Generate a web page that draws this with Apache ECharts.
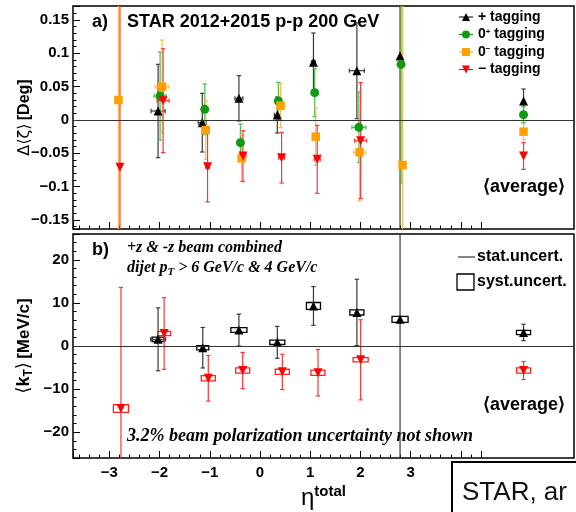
<!DOCTYPE html>
<html><head><meta charset="utf-8">
<script src="https://cdn.jsdelivr.net/npm/echarts@6/dist/echarts.min.js"></script>
<style>html,body{margin:0;padding:0;background:#fff}#c{width:576px;height:512px}</style>
</head><body><div id="c"></div>
<script>
// ---------- panel a) : Δ<ζ> [Deg] ----------
const plusEtaA  = [-2.03, -1.15, -0.42, 0.345, 1.065, 1.93, 2.79, 5.25];
const plusValA  = [0.0135, -0.004, 0.0325, 0.0075, 0.0865, 0.074, 0.096, 0.0285];
const plusErrA  = [0.070, 0.044, 0.034, 0.027, 0.044, 0.072, 0.60, 0.018];
const plusXErrA = [0.14, 0.08, 0.08, 0.06, 0.04, 0.15, 0, 0];

const zpEtaA  = [-1.99, -1.10, -0.39, 0.365, 1.09, 1.97, 2.81, 5.25];
const zpValA  = [0.036, 0.016, -0.034, 0.0285, 0.041, -0.011, 0.0835, 0.008];
const zpErrA  = [0.066, 0.038, 0.028, 0.028, 0.036, 0.053, 0.178, 0.012];
const zpXErrA = [0.12, 0.04, 0.04, 0.04, 0.03, 0.14, 0, 0];

const zmEtaA  = [-2.82, -1.95, -1.08, -0.365, 0.41, 1.11, 1.985, 2.84, 5.25];
const zmValA  = [0.030, 0.050, -0.015, -0.0575, 0.0215, -0.025, -0.0485, -0.0675, -0.0175];
const zmErrA  = [0.60, 0.070, 0.044, 0.035, 0.033, 0.043, 0.073, 0.60, 0.012];
const zmXErrA = [0, 0.14, 0.04, 0.04, 0.06, 0.04, 0.12, 0, 0];

const minusEtaA  = [-2.79, -1.93, -1.045, -0.34, 0.43, 1.14, 2.005, 5.25];
const minusValA  = [-0.071, 0.029, -0.070, -0.054, -0.0565, -0.059, -0.031, -0.054];
const minusErrA  = [0.60, 0.078, 0.053, 0.038, 0.038, 0.051, 0.087, 0.020];
const minusXErrA = [0, 0.12, 0.04, 0.06, 0.06, 0.06, 0.12, 0];

// ---------- panel b) : <k_T> [MeV/c] ----------
const plusEtaB   = [-2.03, -1.14, -0.42, 0.345, 1.065, 1.93, 2.79, 5.25];
const plusValB   = [1.55, -0.4, 3.7, 0.85, 9.3, 7.8, 6.2, 3.15];
const plusStatB  = [7.3, 4.7, 3.7, 3.7, 4.5, 7.7, 80, 1.9];
const plusXErrB  = [0.15, 0, 0, 0, 0, 0, 0, 0];
const plusSystB  = [0.5, 0.5, 0.55, 0.5, 0.8, 0.6, 0.7, 0.5];
const plusSystWB = [0.12, 0.12, 0.16, 0.15, 0.14, 0.14, 0.16, 0.14];

const minusEtaB   = [-2.77, -1.91, -1.03, -0.345, 0.445, 1.155, 2.005, 5.25];
const minusValB   = [-14.5, 2.9, -7.5, -5.7, -6.0, -6.2, -3.2, -5.7];
const minusStatB  = [28.1, 8.3, 5.3, 4.2, 4.1, 5.4, 9.3, 2.1];
const minusXErrB  = [0, 0, 0, 0, 0, 0, 0, 0];
const minusSystB  = [0.9, 0.5, 0.6, 0.6, 0.6, 0.6, 0.5, 0.6];
const minusSystWB = [0.15, 0.13, 0.14, 0.14, 0.14, 0.14, 0.15, 0.14];

// ---------- tick labels ----------
const xTicks = [-3, -2, -1, 0, 1, 2, 3];
const yTicksA = [-0.15, -0.1, -0.05, 0, 0.05, 0.1, 0.15];
const yTicksB = [-20, -10, 0, 10, 20];
const legendLabels = {
  plus: '+ tagging',
  zp: '0{sup|+} tagging',
  zm: '0{sup|\u2212} tagging',
  minus: '\u2212 tagging'
};

const X_MIN = -3.725, PX_PER_UNIT = 50.2, PLOT_W = 501, TICK_MAX = 4.4;
const FONT = "'Liberation Sans', Arial, Helvetica, sans-serif";
const SERIF = "'Liberation Serif', 'Times New Roman', serif";

function fmtNum(v) { return String(v).replace('-', '\u2212'); }
function tickFormatter(list) {
  return function (v) {
    for (const t of list) if (Math.abs(v - t) < 1e-9 * Math.max(1, Math.abs(t)) + 1e-9) return fmtNum(t);
    return '';
  };
}
function zip() {
  const arrs = Array.from(arguments);
  return arrs[0].map((_, i) => arrs.map(a => a[i]));
}

function errRender(color, lw) {
  return function (params, api) {
    const cs = params.coordSys;
    const x = api.value(0), y = api.value(1), ey = api.value(2), ex = api.value(3);
    const c = api.coord([x, y]);
    const top = cs.y, bot = cs.y + cs.height;
    const y1 = api.coord([x, y + ey])[1], y2 = api.coord([x, y - ey])[1];
    const st = { stroke: color, lineWidth: lw };
    const ch = [];
    ch.push({ type: 'line', shape: { x1: c[0], y1: Math.max(y1, top), x2: c[0], y2: Math.min(y2, bot) }, style: st });
    const cw = 2.2;
    if (y1 > top) ch.push({ type: 'line', shape: { x1: c[0] - cw, y1: y1, x2: c[0] + cw, y2: y1 }, style: st });
    if (y2 < bot) ch.push({ type: 'line', shape: { x1: c[0] - cw, y1: y2, x2: c[0] + cw, y2: y2 }, style: st });
    if (ex > 0) {
      const xl = api.coord([x - ex, y])[0], xr = api.coord([x + ex, y])[0];
      ch.push({ type: 'line', shape: { x1: xl, y1: c[1], x2: xr, y2: c[1] }, style: st });
      ch.push({ type: 'line', shape: { x1: xl, y1: c[1] - cw, x2: xl, y2: c[1] + cw }, style: st });
      ch.push({ type: 'line', shape: { x1: xr, y1: c[1] - cw, x2: xr, y2: c[1] + cw }, style: st });
    }
    return { type: 'group', children: ch };
  };
}
function boxRender(color) {
  return function (params, api) {
    const x = api.value(0), y = api.value(1), sy = api.value(2), sx = api.value(3);
    const p1 = api.coord([x - sx, y + sy]), p2 = api.coord([x + sx, y - sy]);
    return { type: 'rect', shape: { x: p1[0], y: p1[1], width: p2[0] - p1[0], height: p2[1] - p1[1] },
      style: { stroke: color, fill: 'transparent', lineWidth: 1.3 } };
  };
}

const COL = { plus: '#000000', zp: '#119a11', zm: '#ffa000', minus: '#ff0000' };
const BAR = { plus: '#3a3a3a', zp: '#4cbc4c', zm: '#ffbb50', minus: '#ff3535' };
const SYM = { plus: 'triangle', zp: 'circle', zm: 'rect', minus: 'triangle' };
const ROT = { plus: 0, zp: 0, zm: 0, minus: 180 };
const SIZE = { plus: 9, zp: 9, zm: 8.5, minus: 9 };
const ICON = {
  plus: 'path://M0,3.6H14V4.4H0Z M3,8L7,0L11,8Z',
  zp: 'path://M0,3.6H14V4.4H0Z M3,4A4,4 0 1,1 11,4A4,4 0 1,1 3,4Z',
  zm: 'path://M0,3.6H14V4.4H0Z M3,0H11V8H3Z',
  minus: 'path://M0,3.6H14V4.4H0Z M3,0L11,0L7,8Z'
};

const zeroLine = { silent: true, symbol: 'none', label: { show: false }, animation: false,
  lineStyle: { color: '#333', width: 1, type: 'solid' }, data: [{ yAxis: 0 }] };

const series = [];
function addSet(key, name, grid, eta, val, err, xerr, withZero) {
  series.push({ type: 'custom', name: name + '_err', xAxisIndex: grid, yAxisIndex: grid,
    renderItem: errRender(BAR[key], 1.2), data: zip(eta, val, err, xerr), encode: { x: 0, y: 1 }, silent: true });
  const s = { type: 'scatter', name: name, xAxisIndex: grid, yAxisIndex: grid,
    symbol: SYM[key], symbolRotate: ROT[key], symbolSize: SIZE[key],
    itemStyle: { color: COL[key], opacity: 1 }, data: zip(eta, val), silent: true };
  if (withZero) s.markLine = zeroLine;
  series.push(s);
}
addSet('plus', 'plus', 0, plusEtaA, plusValA, plusErrA, plusXErrA, true);
addSet('zp', 'zp', 0, zpEtaA, zpValA, zpErrA, zpXErrA, false);
addSet('zm', 'zm', 0, zmEtaA, zmValA, zmErrA, zmXErrA, false);
addSet('minus', 'minus', 0, minusEtaA, minusValA, minusErrA, minusXErrA, false);

// panel b: syst boxes, stat bars, markers
series.push({ type: 'custom', name: 'plusSyst', xAxisIndex: 1, yAxisIndex: 1, silent: true,
  renderItem: boxRender('#000'), data: zip(plusEtaB, plusValB, plusSystB, plusSystWB), encode: { x: 0, y: 1 } });
addSet('plus', 'plusK', 1, plusEtaB, plusValB, plusStatB, plusXErrB, true);
series.push({ type: 'custom', name: 'minusSyst', xAxisIndex: 1, yAxisIndex: 1, silent: true,
  renderItem: boxRender('#ff2020'), data: zip(minusEtaB, minusValB, minusSystB, minusSystWB), encode: { x: 0, y: 1 } });
addSet('minus', 'minusK', 1, minusEtaB, minusValB, minusStatB, minusXErrB, false);

const tickStyle = { show: true, inside: true, length: 7, lineStyle: { color: '#000', width: 1 } };
const minorStyle = { show: true, splitNumber: 5, length: 3.5, lineStyle: { color: '#000', width: 1 } };
const labelStyle = { fontFamily: FONT, fontWeight: 'bold', fontSize: 15, color: '#000' };
const noLine = { show: false, onZero: false };
const X_MAX = X_MIN + PLOT_W / PX_PER_UNIT;
const TICK_W = (TICK_MAX - X_MIN) * PX_PER_UNIT;

const hiddenX = (g, extra) => Object.assign({ type: 'value', gridIndex: g, min: X_MIN, max: X_MAX,
  axisLine: noLine, axisTick: { show: false }, axisLabel: { show: false }, splitLine: { show: false } }, extra || {});
const tickX = (g, showLabels) => ({ type: 'value', gridIndex: g, min: X_MIN, max: TICK_MAX, splitNumber: 8,
  axisLine: noLine, axisTick: tickStyle, minorTick: minorStyle, splitLine: { show: false },
  axisLabel: Object.assign({ show: showLabels, margin: 7, formatter: tickFormatter(xTicks) }, labelStyle) });

const gridBase = { outerBoundsMode: 'none', containLabel: false };
const option = {
  animation: false,
  backgroundColor: '#fff',
  grid: [
    Object.assign({ left: 73, top: 6, width: PLOT_W, height: 223, show: true, borderColor: '#000', borderWidth: 1.5 }, gridBase),
    Object.assign({ left: 73, top: 234, width: PLOT_W, height: 224, show: true, borderColor: '#000', borderWidth: 1.5 }, gridBase),
    Object.assign({ left: 73, top: 6, width: TICK_W, height: 223 }, gridBase),
    Object.assign({ left: 73, top: 234, width: TICK_W, height: 224 }, gridBase)
  ],
  xAxis: [
    hiddenX(0),
    hiddenX(1, { name: '{e|\u03b7}{s|total}', nameLocation: 'middle', nameGap: 26, nameMoveOverlap: false,
      nameTextStyle: { rich: {
        e: { fontFamily: FONT, fontSize: 24, color: '#000', verticalAlign: 'bottom', lineHeight: 26 },
        s: { fontFamily: FONT, fontSize: 15, fontWeight: 'bold', color: '#000', verticalAlign: 'top', lineHeight: 26 } } } }),
    tickX(2, false),
    tickX(3, true)
  ],
  yAxis: [
    { type: 'value', gridIndex: 0, min: -0.1635, max: 0.171, splitNumber: 7,
      axisLine: noLine, axisTick: tickStyle, minorTick: minorStyle, splitLine: { show: false },
      axisLabel: Object.assign({ margin: 4, formatter: tickFormatter(yTicksA) }, labelStyle),
      name: '{a|\u0394\u27e8\u03b6\u27e9} {b|[Deg]}', nameLocation: 'middle', nameRotate: 90, nameGap: 40, nameMoveOverlap: false,
      nameTextStyle: { rich: {
        a: { fontFamily: "'DejaVu Sans', " + FONT, fontSize: 16, color: '#000' },
        b: { fontFamily: FONT, fontSize: 16, fontWeight: 'bold', color: '#000' } } } },
    { type: 'value', gridIndex: 1, min: -26, max: 26, splitNumber: 5,
      axisLine: noLine, axisTick: tickStyle, minorTick: minorStyle, splitLine: { show: false },
      axisLabel: Object.assign({ margin: 4, formatter: tickFormatter(yTicksB) }, labelStyle),
      name: '{a|\u27e8}{k|k}{t|T}{a|\u27e9} {b|[MeV/c]}', nameLocation: 'middle', nameRotate: 90, nameGap: 38, nameMoveOverlap: false,
      nameTextStyle: { rich: {
        a: { fontFamily: "'DejaVu Sans', " + FONT, fontSize: 18, color: '#000', lineHeight: 22 },
        k: { fontFamily: FONT, fontSize: 18, fontWeight: 'bold', color: '#000', lineHeight: 22 },
        t: { fontFamily: FONT, fontSize: 12, fontWeight: 'bold', color: '#000', verticalAlign: 'bottom', lineHeight: 22 },
        b: { fontFamily: FONT, fontSize: 17, fontWeight: 'bold', color: '#000', lineHeight: 22 } } } },
    { type: 'value', gridIndex: 2, show: false, min: 0, max: 1, axisLine: noLine },
    { type: 'value', gridIndex: 3, show: false, min: 0, max: 1, axisLine: noLine }
  ],
  legend: {
    data: ['plus', 'zp', 'zm', 'minus'].map(n => ({ name: n, icon: ICON[n] })),
    orient: 'vertical', left: 454, top: 5, itemWidth: 14, itemHeight: 8, itemGap: 3.5,
    selectedMode: false,
    formatter: n => legendLabels[n],
    textStyle: { fontFamily: FONT, fontWeight: 'bold', fontSize: 14, lineHeight: 14, color: '#000',
      rich: { sup: { fontFamily: FONT, fontWeight: 'bold', fontSize: 8, verticalAlign: 'top', lineHeight: 14, color: '#000' } } }
  },
  graphic: [
    { type: 'text', x: 92, y: 22, style: { text: 'a)', font: 'bold 18px ' + FONT, fill: '#000', verticalAlign: 'middle' } },
    { type: 'text', x: 127, y: 22, style: { text: 'STAR 2012+2015 p-p 200 GeV', font: 'bold 18px ' + FONT, fill: '#000', verticalAlign: 'middle' } },
    { type: 'text', x: 483, y: 187, style: { text: '\u27e8average\u27e9', font: 'bold 18px ' + FONT, fill: '#000', verticalAlign: 'middle' } },
    { type: 'text', x: 92, y: 250, style: { text: 'b)', font: 'bold 18px ' + FONT, fill: '#000', verticalAlign: 'middle' } },
    { type: 'text', x: 127, y: 248, style: { text: '+z & -z beam combined', font: 'italic bold 16px ' + SERIF, fill: '#000', verticalAlign: 'middle' } },
    { type: 'text', x: 127, y: 268, style: { text: 'dijet p{sub|T} > 6 GeV/c & 4 GeV/c', font: 'italic bold 16px ' + SERIF, fill: '#000', verticalAlign: 'middle',
      rich: { sub: { font: 'italic bold 11px ' + SERIF, fill: '#000', verticalAlign: 'bottom', lineHeight: 20 } } } },
    { type: 'text', x: 127, y: 436, style: { text: '3.2% beam polarization uncertainty not shown', font: 'italic bold 18px ' + SERIF, fill: '#000', verticalAlign: 'middle' } },
    { type: 'text', x: 483, y: 405, style: { text: '\u27e8average\u27e9', font: 'bold 18px ' + FONT, fill: '#000', verticalAlign: 'middle' } },
    { type: 'line', shape: { x1: 458, y1: 257, x2: 475, y2: 257 }, style: { stroke: '#444', lineWidth: 1.3 } },
    { type: 'text', x: 477, y: 257, style: { text: 'stat.uncert.', font: 'bold 16px ' + FONT, fill: '#000', verticalAlign: 'middle' } },
    { type: 'rect', shape: { x: 457, y: 274, width: 17, height: 16 }, style: { stroke: '#000', fill: 'transparent', lineWidth: 1.3 } },
    { type: 'text', x: 477, y: 282, style: { text: 'syst.uncert.', font: 'bold 16px ' + FONT, fill: '#000', verticalAlign: 'middle' } },
    { type: 'rect', shape: { x: 452, y: 462, width: 140, height: 60 }, style: { stroke: '#000', fill: '#fff', lineWidth: 2 } },
    { type: 'text', x: 462, y: 493, style: { text: 'STAR, ar', font: '26px ' + FONT, fill: '#111', verticalAlign: 'middle' } }
  ],
  series: series
};

const chart = echarts.init(document.getElementById('c'), null, { renderer: 'canvas' });
chart.setOption(option);
</script>
</body></html>
